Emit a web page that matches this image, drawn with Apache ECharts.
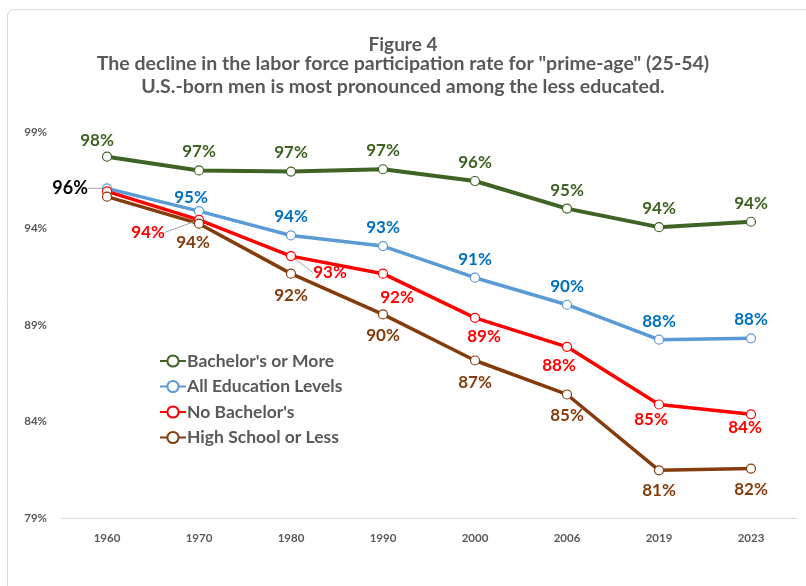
<!DOCTYPE html>
<html>
<head>
<meta charset="utf-8">
<script src="https://cdn.jsdelivr.net/npm/echarts@6/dist/echarts.min.js"></script>
<style>
  html, body { margin: 0; padding: 0; background: #fff; }
  #chart { width: 806px; height: 586px; }
</style>
</head>
<body>
<div id="chart"></div>
<script>
const years = ['1960', '1970', '1980', '1990', '2000', '2006', '2019', '2023']
const yTicks = [79, 84, 89, 94, 99]

const bachelorsOrMore = [97.72, 97.01, 96.95, 97.07, 96.46, 95.03, 94.07, 94.35]
const allEducation = [96.08, 94.9, 93.64, 93.09, 91.45, 90.05, 88.24, 88.31]
const noBachelors = [95.92, 94.45, 92.57, 91.66, 89.37, 87.87, 84.88, 84.37]
const highSchoolOrLess = [95.65, 94.25, 91.66, 89.55, 87.16, 85.4, 81.47, 81.56]

const FONT = 'Lato'
const GREY = '#595959'

// label nudges per point (style only)
const shifts = {
  green: { 0: [-10, 2] },
  blue: { 0: [-6, 0], 1: [-8, 5] },
  red: { 1: [-51, -6], 2: [39, -2], 3: [14, 5], 4: [9, 0], 5: [-8, 0], 6: [-8, -4], 7: [-6, -5] },
  brown: { 1: [-6, 0], 2: [0, 3], 3: [0, 3], 4: [0, 3], 5: [0, 2], 6: [0, 2], 7: [0, 2] },
}
// points whose label gets a leader line
const leaders = { blue: [0], red: [1, 2] }

const makeSeries = (name, values, lineColor, labelColor, pos, key, width, opts = {}) => ({
  name,
  type: 'line',
  data: values.map((v, i) => {
    const item = { value: v }
    if (opts.hide && opts.hide.includes(i)) item.label = { show: false }
    if (opts.special && opts.special[i]) item.label = opts.special[i]
    if (leaders[key] && leaders[key].includes(i)) item.labelLine = { show: true }
    return item
  }),
  symbol: 'circle',
  symbolSize: 9,
  itemStyle: { color: '#fff', borderColor: lineColor, borderWidth: 1.2 },
  lineStyle: { color: lineColor, width },
  label: {
    show: true,
    position: pos,
    distance: 5,
    color: labelColor,
    fontFamily: FONT,
    fontWeight: 'bold',
    fontSize: 17,
    formatter: (p) => Math.round(p.value) + '%',
  },
  labelLine: { show: false, lineStyle: { color: '#a6a6a6', width: 1 } },
  labelLayout: (p) => {
    const s = shifts[key][p.dataIndex]
    return s ? { dx: s[0], dy: s[1] } : {}
  },
  emphasis: { disabled: true },
  z: opts.z || 2,
})

const chart = echarts.init(document.getElementById('chart'))

chart.setOption({
  animation: false,
  backgroundColor: '#fff',
  title: [
    {
      text: 'Figure 4',
      left: 'center',
      top: 30,
      textStyle: { fontFamily: FONT, fontSize: 19, fontWeight: 'bold', color: GREY },
    },
    {
      text: 'The decline in the labor force participation rate for "prime-age" (25-54)\nU.S.-born men is most pronounced among the less educated.',
      left: 'center',
      top: 47,
      textStyle: { fontFamily: FONT, fontSize: 19.5, fontWeight: 'bold', color: GREY, lineHeight: 23, align: 'center' },
    },
  ],
  graphic: [
    {
      type: 'rect',
      left: 5,
      top: 7,
      shape: { width: 830, height: 620, r: 6 },
      style: { fill: 'none', stroke: '#d9d9d9', lineWidth: 1 },
      silent: true,
    },
  ],
  legend: {
    orient: 'vertical',
    left: 154,
    top: 347,
    itemWidth: 26,
    itemHeight: 14,
    itemGap: 7.5,
    textStyle: { fontFamily: FONT, fontSize: 17.5, fontWeight: 'bold', color: GREY, padding: [0, 0, 0, -4] },
  },
  grid: { left: 61, right: 9, top: 132, bottom: 68 },
  xAxis: {
    type: 'category',
    data: years,
    boundaryGap: true,
    axisLine: { lineStyle: { color: '#d9d9d9', width: 1 } },
    axisTick: { show: false },
    axisLabel: { color: GREY, fontFamily: FONT, fontWeight: 'bold', fontSize: 11.5, margin: 14 },
  },
  yAxis: {
    type: 'value',
    min: yTicks[0],
    max: yTicks[yTicks.length - 1],
    interval: 5,
    axisLine: { show: false },
    axisTick: { show: false },
    splitLine: { show: false },
    axisLabel: { color: GREY, fontFamily: FONT, fontWeight: 'bold', fontSize: 11.5, margin: 14, formatter: '{value}%' },
  },
  series: [
    makeSeries("Bachelor's or More", bachelorsOrMore, '#3f6324', '#3f6324', 'top', 'green', 4, { z: 3 }),
    makeSeries('All Education Levels', allEducation, '#5b9bd5', '#0070c0', 'top', 'blue', 3.5, {
      special: { 0: { position: 'left', distance: 8, color: '#000', fontSize: 18 } },
    }),
    makeSeries("No Bachelor's", noBachelors, '#ff0000', '#ff0000', 'bottom', 'red', 3.5, { hide: [0] }),
    makeSeries('High School or Less', highSchoolOrLess, '#843c0c', '#843c0c', 'bottom', 'brown', 3.5, { hide: [0] }),
  ],
})
</script>
</body>
</html>
